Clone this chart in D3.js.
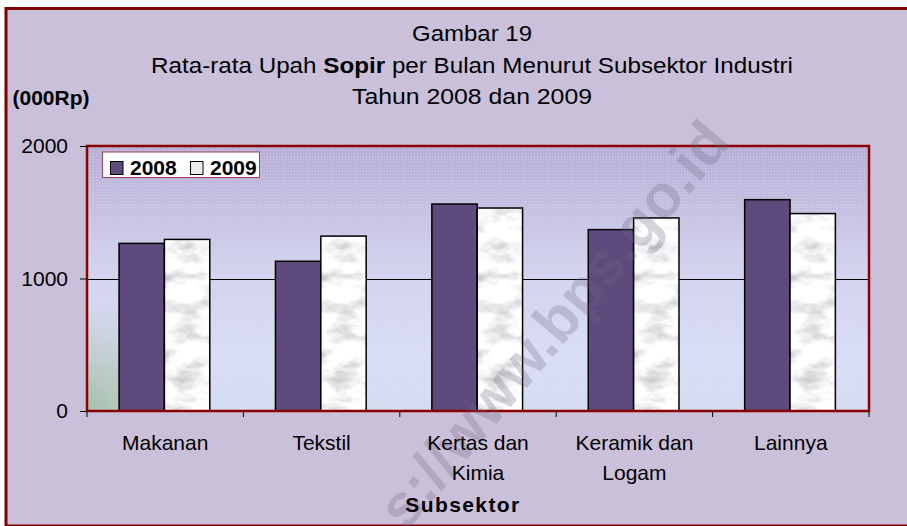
<!DOCTYPE html>
<html>
<head>
<meta charset="utf-8">
<script src="https://cdn.jsdelivr.net/npm/d3@7"></script>
<style>
  html, body { margin: 0; padding: 0; background: #ffffff; }
  svg { display: block; font-family: "Liberation Sans", Arial, sans-serif; }
</style>
</head>
<body>
<script>
// chart data
const categories = [["Makanan"], ["Tekstil"], ["Kertas dan", "Kimia"], ["Keramik dan", "Logam"], ["Lainnya"]];
const years = ["2008", "2009"];
const values2008 = [1265, 1130, 1562, 1369, 1595];
const values2009 = [1295, 1320, 1532, 1457, 1490];
const yTicks = [0, 1000, 2000];
const titleLines = ["Gambar 19", "Rata-rata Upah Sopir per Bulan Menurut Subsektor Industri", "Tahun 2008 dan 2009"];

const width = 907, height = 526;
const plot = { left: 87, right: 869, top: 146, bottom: 411 };

const svg = d3.select("body").append("svg")
    .attr("width", width)
    .attr("height", height)
    .attr("font-family", "Liberation Sans, Arial, sans-serif");

const defs = svg.append("defs");

// plot area background gradient
const bg = defs.append("linearGradient").attr("id", "plotBg")
    .attr("x1", 0).attr("y1", 0).attr("x2", 0).attr("y2", 1);
bg.append("stop").attr("offset", "0%").attr("stop-color", "#b7aed6");
bg.append("stop").attr("offset", "45%").attr("stop-color", "#d2d2ed");
bg.append("stop").attr("offset", "80%").attr("stop-color", "#d9ddf5");
bg.append("stop").attr("offset", "100%").attr("stop-color", "#d4dbef");

const green = defs.append("radialGradient").attr("id", "greenCorner")
    .attr("gradientUnits", "userSpaceOnUse")
    .attr("cx", plot.left).attr("cy", plot.bottom).attr("r", 110);
green.append("stop").attr("offset", "0%").attr("stop-color", "#9cb799").attr("stop-opacity", 0.8);
green.append("stop").attr("offset", "100%").attr("stop-color", "#9cb799").attr("stop-opacity", 0);

// dotted texture, stronger at the top
const dots = defs.append("pattern").attr("id", "dots")
    .attr("patternUnits", "userSpaceOnUse").attr("width", 3).attr("height", 3);
dots.append("rect").attr("width", 1).attr("height", 1).attr("fill", "#ffffff").attr("opacity", 0.35);
const dotFade = defs.append("linearGradient").attr("id", "dotFade")
    .attr("x1", 0).attr("y1", 0).attr("x2", 0).attr("y2", 1);
dotFade.append("stop").attr("offset", "0%").attr("stop-color", "#fff");
dotFade.append("stop").attr("offset", "55%").attr("stop-color", "#fff").attr("stop-opacity", 0.2);
dotFade.append("stop").attr("offset", "100%").attr("stop-color", "#fff").attr("stop-opacity", 0.5);
defs.append("mask").attr("id", "dotMask")
  .append("rect").attr("x", plot.left).attr("y", plot.top)
    .attr("width", plot.right - plot.left).attr("height", plot.bottom - plot.top)
    .attr("fill", "url(#dotFade)");

// marble texture for the 2009 bars
const marble = defs.append("filter").attr("id", "marble")
    .attr("x", 0).attr("y", 0).attr("width", 1).attr("height", 1);
marble.append("feTurbulence").attr("type", "fractalNoise")
    .attr("baseFrequency", "0.035 0.07").attr("numOctaves", 4).attr("seed", 7);
marble.append("feColorMatrix").attr("type", "matrix")
    .attr("values", "-1 0 0 0 1.45  -1 0 0 0 1.45  -1 0 0 0 1.47  0 0 0 0 1");
defs.append("pattern").attr("id", "marbleFill")
    .attr("patternUnits", "userSpaceOnUse").attr("width", width).attr("height", height)
  .append("rect").attr("width", width).attr("height", height).attr("filter", "url(#marble)");

// page background and frame
svg.append("rect").attr("x", 6).attr("y", 8.5).attr("width", 912).attr("height", 517.5)
    .attr("fill", "#cbc0da").attr("stroke", "#800000").attr("stroke-width", 3);

// scales
const x = d3.scaleBand().domain(d3.range(categories.length)).range([plot.left, plot.right]).padding(0);
const bw = x.bandwidth();
const xs = d3.scaleBand().domain(years).range([bw * 0.205, bw * 0.785]).padding(0);
const y = d3.scaleLinear().domain([0, 2000]).range([plot.bottom, plot.top]);

// plot area
const pw = plot.right - plot.left, ph = plot.bottom - plot.top;
svg.append("rect").attr("x", plot.left).attr("y", plot.top).attr("width", pw).attr("height", ph)
    .attr("fill", "url(#plotBg)");
svg.append("rect").attr("x", plot.left).attr("y", plot.top).attr("width", pw).attr("height", ph)
    .attr("fill", "url(#greenCorner)");
svg.append("rect").attr("x", plot.left).attr("y", plot.top).attr("width", pw).attr("height", ph)
    .attr("fill", "url(#dots)").attr("mask", "url(#dotMask)");

// gridlines
svg.append("g").selectAll("line")
    .data(yTicks.filter(d => d > 0 && d < 2000))
    .join("line")
    .attr("x1", plot.left).attr("x2", plot.right)
    .attr("y1", d => Math.round(y(d)) + 0.5).attr("y2", d => Math.round(y(d)) + 0.5)
    .attr("stroke", "#000").attr("stroke-width", 1.2);

// bars
const rows = categories.map((c, i) => ({ i, values: [values2008[i], values2009[i]] }));
const groups = svg.append("g").selectAll("g")
    .data(rows)
    .join("g")
    .attr("transform", d => `translate(${x(d.i)},0)`);
groups.selectAll("rect")
    .data(d => d.values.map((v, k) => ({ year: years[k], v })))
    .join("rect")
    .attr("x", d => xs(d.year))
    .attr("y", d => y(d.v))
    .attr("width", xs.bandwidth())
    .attr("height", d => y(0) - y(d.v))
    .attr("fill", d => d.year === "2008" ? "#5f4a7e" : "url(#marbleFill)")
    .attr("stroke", "#000").attr("stroke-width", 1.5);

// plot frame
svg.append("rect").attr("x", plot.left).attr("y", plot.top).attr("width", pw).attr("height", ph)
    .attr("fill", "none").attr("stroke", "#8b0000").attr("stroke-width", 2.5);

// y axis
const yAxis = svg.append("g").attr("transform", `translate(${plot.left},0)`)
    .call(d3.axisLeft(y).tickValues(yTicks).tickSize(7).tickPadding(12).tickFormat(d3.format("d")));
yAxis.select(".domain").remove();
yAxis.selectAll("line").attr("stroke", "#000");
yAxis.selectAll("text").attr("font-size", 21).attr("fill", "#000")
    .attr("font-family", "Liberation Sans, Arial, sans-serif");

// x axis ticks at category boundaries
svg.append("g").selectAll("line")
    .data(d3.range(categories.length + 1))
    .join("line")
    .attr("x1", d => plot.left + d * bw).attr("x2", d => plot.left + d * bw)
    .attr("y1", plot.bottom).attr("y2", plot.bottom + 6)
    .attr("stroke", "#000").attr("stroke-width", 1);

// watermark (only its tail shows inside the frame)
svg.append("text")
    .attr("transform", "translate(406,532) rotate(-50)")
    .attr("font-size", 60).attr("font-weight", "bold")
    .attr("fill", "#6e6680").attr("opacity", 0.27)
    .text("s://www.bps.go.id");

// category labels
const catLabels = svg.append("g").selectAll("text")
    .data(categories)
    .join("text")
    .attr("text-anchor", "middle")
    .attr("font-size", 21)
    .attr("fill", "#000");
catLabels.selectAll("tspan")
    .data((d, i) => d.map((line, k) => ({ line, k, i })))
    .join("tspan")
    .attr("x", d => x(d.i) + bw / 2)
    .attr("y", d => 450 + d.k * 29.5)
    .text(d => d.line);

// axis titles
svg.append("text").attr("x", 463).attr("y", 511.5).attr("text-anchor", "middle")
    .attr("font-size", 21).attr("font-weight", "bold").attr("letter-spacing", 1.4)
    .text("Subsektor");
svg.append("text").attr("x", 12.5).attr("y", 105)
    .attr("font-size", 21).attr("font-weight", "bold")
    .text("(000Rp)");

// title
const titleWidths = [120, 642, 240];
const titleY = [40.5, 72.5, 104];
titleLines.forEach((t, i) => {
  const txt = svg.append("text").attr("x", 472).attr("y", titleY[i])
      .attr("text-anchor", "middle").attr("font-size", 22)
      .attr("textLength", titleWidths[i]).attr("lengthAdjust", "spacingAndGlyphs");
  if (t.includes("Sopir")) {
    const parts = t.split("Sopir");
    txt.append("tspan").text(parts[0]);
    txt.append("tspan").attr("font-weight", "bold").text("Sopir");
    txt.append("tspan").text(parts[1]);
  } else {
    txt.text(t);
  }
});

// legend
const legend = svg.append("g");
legend.append("rect").attr("x", 102.5).attr("y", 152).attr("width", 157).attr("height", 25.5)
    .attr("fill", "#ffffff").attr("stroke", "#a04050").attr("stroke-width", 1);
const legItems = legend.selectAll("g").data(years).join("g")
    .attr("transform", (d, i) => `translate(${110 + i * 80},0)`);
legItems.append("rect").attr("x", 0.5).attr("y", 161.5).attr("width", 12.5).attr("height", 13)
    .attr("fill", d => d === "2008" ? "#5f4a7e" : "#ececee")
    .attr("stroke", "#000").attr("stroke-width", 1);
legItems.append("text").attr("x", 20).attr("y", 175)
    .attr("font-size", 21).attr("font-weight", "bold")
    .text(d => d);
</script>
</body>
</html>
